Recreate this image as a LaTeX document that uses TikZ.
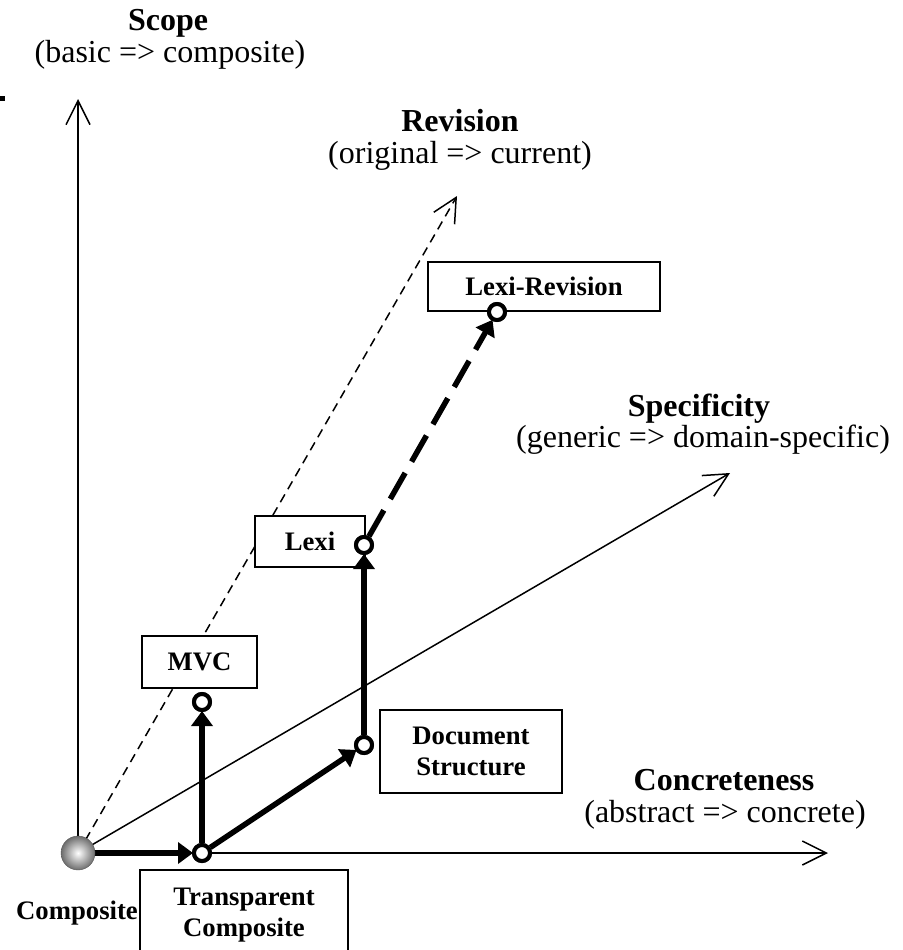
\documentclass[tikz,border=0pt]{standalone}
\usepackage{fontspec}
\setmainfont{Liberation Serif}
\usetikzlibrary{arrows.meta}
\begin{document}
\begin{tikzpicture}[x=1pt,y=-1pt,
  axisline/.style={line width=1.5pt,-{Straight Barb[length=24pt,width=24pt,line width=1.5pt]}},
  revline/.style={line width=1.5pt,dash pattern=on 9pt off 6pt,-{Straight Barb[length=24pt,width=24pt,line width=1.5pt]}},
  thickarrow/.style={line width=5.5pt,-{Triangle[length=15pt,width=21pt]},shorten >=-1pt},
  thickdash/.style={thickarrow,dash pattern=on 30pt off 13pt},
  dot/.style={circle,draw,fill=white,line width=4pt,minimum size=16pt,inner sep=0pt},
  box/.style={rectangle,draw,fill=white,line width=1.5pt,align=center,inner sep=0pt,
    font=\fontsize{26.7}{31}\selectfont\bfseries},
  axtitle/.style={anchor=base,inner sep=0pt,font=\fontsize{32}{38}\selectfont\bfseries},
  axsub/.style={anchor=base,inner sep=0pt,font=\fontsize{32}{38}\selectfont},
  plain/.style={inner sep=0pt,font=\fontsize{26.7}{31}\selectfont\bfseries}
]
\useasboundingbox (0,0) rectangle (902,950);

% axis ends
\coordinate (o) at (78,853);
\coordinate (scopeEnd) at (78,99);
\coordinate (concEnd) at (828,853);
\coordinate (specEnd) at (730,473);
\coordinate (revEnd) at (457,196);

% stray mark at the top-left edge
\fill (0,96) rectangle (5,101);

% axes
\draw[axisline] (o) -- (scopeEnd);
\draw[axisline] (o) -- (concEnd);
\draw[axisline] (o) -- (specEnd);
\draw[revline] (o) -- (revEnd);

% axis labels
\node[axtitle] (scopeT) at (168,31) {Scope};
\node[axsub] (scopeS) at (170,63) {(basic => composite)};
\node[axtitle] (revT) at (460,131) {Revision};
\node[axsub] (revS) at (460,163) {(original => current)};
\node[axtitle] (specT) at (699,416) {Specificity};
\node[axsub] (specS) at (703,447) {(generic => domain-specific)};
\node[axtitle] (concT) at (724,790) {Concreteness};
\node[axsub] (concS) at (725,822) {(abstract => concrete)};

% boxes
\node[box,minimum width=232pt,minimum height=49pt] (lrBox) at (544,286.5) {Lexi-Revision};
\node[box,minimum width=110pt,minimum height=51pt] (lexiBox) at (310,541.5) {Lexi};
\node[box,minimum width=115pt,minimum height=52pt] (mvcBox) at (199.5,662) {MVC};
\node[box,minimum width=182pt,minimum height=83pt] (dsBox) at (471,751.5) {Document\\Structure};
\node[box,minimum width=208pt,minimum height=90pt] (tcBox) at (244,915) {Transparent\\Composite};
\node[plain] (compLbl) at (77,913) {Composite};

% points
\node[dot] (tc) at (202,853) {};
\node[dot] (mvc) at (202,702) {};
\node[dot] (ds) at (364,745) {};
\node[dot] (lexi) at (364,545) {};
\node[dot] (lr) at (497,312) {};

% thick arrows
\draw[thickarrow] (o) -- (tc);
\draw[thickarrow] (tc) -- (mvc);
\draw[thickarrow] (tc) -- (ds);
\draw[thickarrow] (ds) -- (lexi);
\draw[thickdash] (lexi) -- (lr);

% redraw points on top of shafts
\node[dot] at (tc) {};
\node[dot] at (mvc) {};
\node[dot] at (ds) {};
\node[dot] at (lexi) {};
\node[dot] at (lr) {};

% origin sphere
\shade[inner color=white,outer color=gray!85!black] (o) circle (17pt);
\draw[gray!70!black,line width=0.4pt] (o) circle (17pt);
\end{tikzpicture}
\end{document}
